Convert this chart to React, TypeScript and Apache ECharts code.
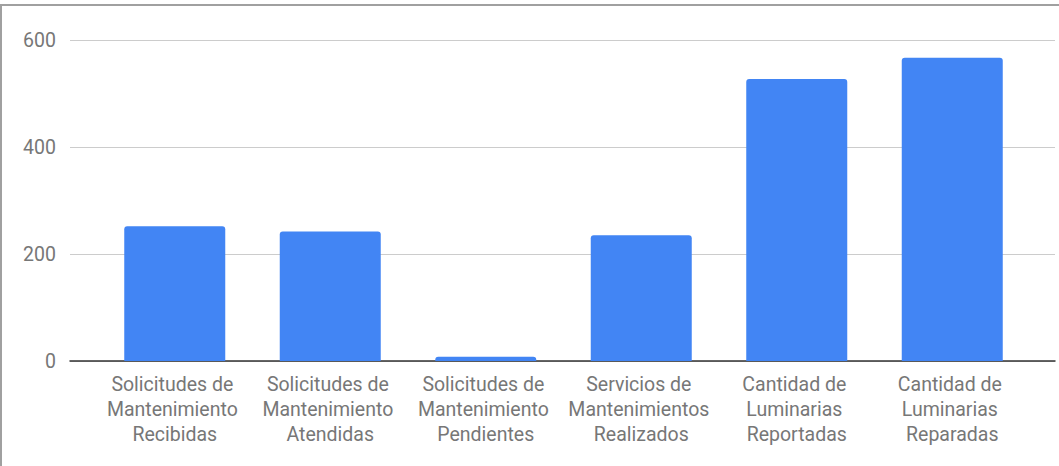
import React, { useEffect, useRef } from "react";
import * as echarts from "echarts";

const categories = [
  "Solicitudes de Mantenimiento Recibidas",
  "Solicitudes de Mantenimiento Atendidas",
  "Solicitudes de Mantenimiento Pendientes",
  "Servicios de Mantenimientos Realizados",
  "Cantidad de Luminarias Reportadas",
  "Cantidad de Luminarias Reparadas",
];
const values = [252, 242, 8, 235, 527, 567];
const yTicks = { min: 0, max: 600, interval: 200 };

export default function App() {
  const ref = useRef<HTMLDivElement>(null);
  useEffect(() => {
    if (!ref.current) return;
    const chart = echarts.init(ref.current, null, { renderer: "svg" });
    const font = "Roboto, 'Noto Sans', sans-serif";
    chart.setOption({
      animation: false,
      grid: [
        { left: 70, right: 4, top: 40, bottom: 105 },
        { left: 97, right: 29, top: 40, bottom: 105 },
      ],
      xAxis: [
        {
          type: "category",
          gridIndex: 0,
          data: categories,
          axisLine: { show: true, lineStyle: { color: "#333333", width: 1.5 } },
          axisTick: { show: false },
          axisLabel: { show: false },
        },
        {
          type: "category",
          gridIndex: 1,
          data: categories,
          axisLine: { show: false },
          axisTick: { show: false },
          axisLabel: {
            color: "#777777",
            fontFamily: font,
            fontSize: 19.5,
            lineHeight: 25,
            margin: 11,
            width: 148,
            overflow: "break",
            interval: 0,
          },
        },
      ],
      yAxis: [
        {
          type: "value",
          gridIndex: 0,
          min: yTicks.min,
          max: yTicks.max,
          interval: yTicks.interval,
          axisLine: { show: false },
          axisTick: { show: false },
          splitLine: { lineStyle: { color: "#cccccc", width: 1 } },
          axisLabel: { color: "#777777", fontFamily: font, fontSize: 19.5, margin: 14 },
        },
        {
          type: "value",
          gridIndex: 1,
          min: yTicks.min,
          max: yTicks.max,
          interval: yTicks.interval,
          show: false,
          splitLine: { show: false },
        },
      ],
      series: [
        {
          type: "bar",
          xAxisIndex: 1,
          yAxisIndex: 1,
          data: values,
          barWidth: 101,
          itemStyle: { color: "#4285f4", borderRadius: [3, 3, 0, 0] },
        },
      ],
    });
    return () => chart.dispose();
  }, []);
  return (
    <div style={{ position: "absolute", left: 0, top: 0, width: 1059, height: 466, background: "#fff" }}>
      <div
        style={{
          position: "absolute",
          left: 0,
          top: 4,
          right: 0,
          bottom: 0,
          borderTop: "2px solid #a0a0a0",
          borderLeft: "2px solid #a0a0a0",
        }}
      />
      <div ref={ref} style={{ position: "absolute", left: 0, top: 0, width: 1059, height: 466 }} />
    </div>
  );
}
